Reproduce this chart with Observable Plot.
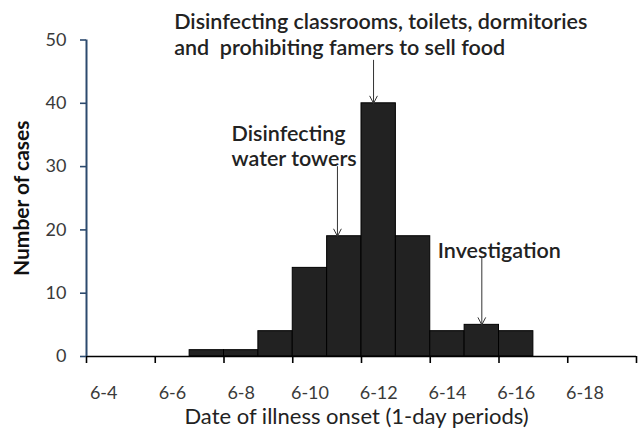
<!DOCTYPE html>
<html>
<head>
<meta charset="utf-8">
<script src="https://cdn.jsdelivr.net/npm/d3@7"></script>
<script src="https://cdn.jsdelivr.net/npm/@observablehq/plot@0.6"></script>
<style>
  html, body { margin: 0; padding: 0; background: #fff; }
  #chart svg { display: block; }
</style>
</head>
<body>
<div id="chart"></div>
<script>
// Epidemic curve: day of June (onset) and number of cases
const onsetDays = [7, 8, 9, 10, 11, 12, 13, 14, 15, 16];
const caseCounts = [1, 1, 4, 14, 19, 40, 19, 4, 5, 4];

// Axis: 16 one-day categories (6-4 … 6-19), tick marks every 2 days
const tickBoundaries = [3.5, 5.5, 7.5, 9.5, 11.5, 13.5, 15.5, 17.5, 19.5];
const labelDays = [4, 6, 8, 10, 12, 14, 16, 18];
const tickLabels = ["6-4", "6-6", "6-8", "6-10", "6-12", "6-14", "6-16", "6-18"];
const yTicks = [0, 10, 20, 30, 40, 50];

// Annotations (data units: day, number of cases)
const annotTexts = [
  "Disinfecting classrooms, toilets, dormitories\nand  prohibiting famers to sell food",
  "Disinfecting\nwater towers",
  "Investigation"
];
const annotTextDay = [6.05, 7.72, 13.72];
const annotTextTop = [54.6, 37.0, 18.4];
const arrowDay = [11.85, 10.8, 15.0];
const arrowFrom = [46.8, 30.0, 15.5];
const arrowTo = [40, 19, 5];

const bars = onsetDays.map((d, i) => ({day: d, cases: caseCounts[i]}));
const annotations = annotTexts.map((t, i) => ({
  text: t, tx: annotTextDay[i], ty: annotTextTop[i],
  ax: arrowDay[i], from: arrowFrom[i], to: arrowTo[i]
}));

const font = "Lato, 'Open Sans', sans-serif";

const chart = Plot.plot({
  width: 640,
  height: 431,
  marginLeft: 86,
  marginRight: 4,
  marginTop: 39.5,
  marginBottom: 75,
  style: {fontFamily: font, background: "#fff", color: "#333"},
  x: {type: "linear", domain: [3.5, 19.5]},
  y: {domain: [0, 50]},
  marks: [
    Plot.rect(bars, {
      x1: d => d.day - 0.5, x2: d => d.day + 0.5,
      y1: 0, y2: "cases",
      fill: "#222", stroke: "#000", strokeWidth: 1
    }),
    // x tick marks
    Plot.axisX({ticks: tickBoundaries, tickFormat: () => "", tickSize: 7,
      stroke: "#000", strokeWidth: 1.6, label: null}),
    // x tick labels
    Plot.axisX({ticks: labelDays, tickSize: 0, tickPadding: 30,
      tickFormat: d => tickLabels[labelDays.indexOf(d)],
      fontSize: 18, fill: "#3a3a3a", label: null}),
    // y axis
    Plot.axisY({ticks: yTicks, tickSize: 6, tickPadding: 14, fontSize: 18,
      stroke: "#2c4a6e", strokeWidth: 1.6, fill: "#3a3a3a", label: null}),
    Plot.ruleY([0], {stroke: "#000", strokeWidth: 1.6}),
    Plot.ruleX([3.5], {stroke: "#2c4a6e", strokeWidth: 2}),
    // titles
    Plot.text(["Number of cases"], {
      frameAnchor: "left", textAnchor: "middle", rotate: -90, dx: -64,
      fontSize: 21, fontWeight: "bold", fill: "#111"
    }),
    Plot.text(["Date of illness onset (1-day periods)"], {
      frameAnchor: "bottom", dy: 60, dx: -5, lineAnchor: "middle",
      fontSize: 22, fill: "#222"
    }),
    // annotations
    Plot.arrow(annotations, {
      x1: "ax", x2: "ax", y1: "from", y2: "to",
      stroke: "#333", strokeWidth: 1, headLength: 12, headAngle: 55
    }),
    Plot.text(annotations, {
      x: "tx", y: "ty", text: "text",
      textAnchor: "start", lineAnchor: "top", lineHeight: 1.2,
      fontSize: 21.5, fontWeight: 600, fill: "#222"
    })
  ]
});

document.getElementById("chart").appendChild(chart);
</script>
</body>
</html>
